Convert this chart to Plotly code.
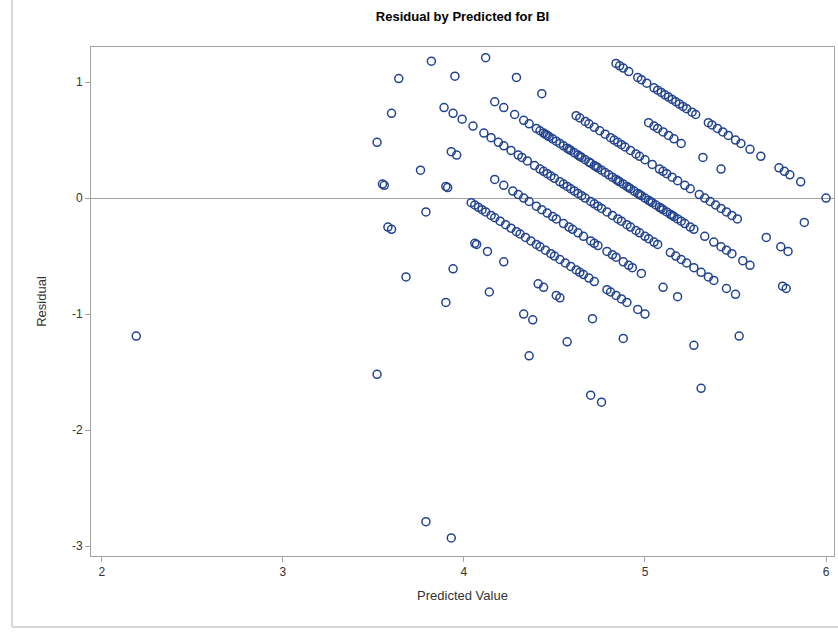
import plotly.graph_objects as go

# (predicted, residual) pairs grouped by observed BI score
obs_600 = [(4.84, 1.16), (4.86, 1.14), (4.88, 1.12), (4.91, 1.09), (4.96, 1.04), (4.98, 1.02),
           (5.01, 0.99), (5.05, 0.95), (5.07, 0.93), (5.09, 0.91), (5.11, 0.89), (5.13, 0.87),
           (5.15, 0.85), (5.17, 0.83), (5.19, 0.81), (5.21, 0.79), (5.23, 0.77), (5.26, 0.74),
           (5.28, 0.72), (5.35, 0.65), (5.37, 0.63), (5.40, 0.60), (5.43, 0.57), (5.46, 0.54),
           (5.50, 0.50), (5.53, 0.47), (5.58, 0.42), (5.64, 0.36), (5.74, 0.26), (5.77, 0.23),
           (5.80, 0.20), (5.86, 0.14), (6.00, 0.00)]
obs_567 = [(5.02, 0.65), (5.05, 0.62), (5.07, 0.60), (5.10, 0.57), (5.13, 0.54), (5.16, 0.51),
           (5.20, 0.47), (5.32, 0.35), (5.42, 0.25), (5.88, -0.21)]
obs_533 = [(4.12, 1.21), (4.29, 1.04), (4.43, 0.90), (4.62, 0.71), (4.64, 0.69), (4.67, 0.66),
           (4.69, 0.64), (4.72, 0.61), (4.75, 0.58), (4.78, 0.55), (4.81, 0.52), (4.83, 0.50),
           (4.85, 0.48), (4.87, 0.46), (4.89, 0.44), (4.92, 0.41), (4.95, 0.38), (4.97, 0.36),
           (5.00, 0.33), (5.04, 0.29), (5.08, 0.25), (5.10, 0.23), (5.12, 0.21), (5.15, 0.18),
           (5.18, 0.15), (5.22, 0.11), (5.25, 0.08), (5.30, 0.03), (5.33, 0.00), (5.36, -0.03),
           (5.39, -0.06), (5.42, -0.09), (5.45, -0.12), (5.48, -0.15), (5.51, -0.18),
           (5.67, -0.34), (5.75, -0.42), (5.79, -0.46)]
obs_500 = [(3.82, 1.18), (3.95, 1.05), (4.17, 0.83), (4.22, 0.78), (4.28, 0.72), (4.33, 0.67),
           (4.36, 0.64), (4.40, 0.60), (4.42, 0.58), (4.44, 0.56), (4.45, 0.55), (4.46, 0.54),
           (4.47, 0.53), (4.49, 0.51), (4.51, 0.49), (4.53, 0.47), (4.55, 0.45), (4.57, 0.43),
           (4.58, 0.42), (4.59, 0.41), (4.61, 0.39), (4.63, 0.37), (4.64, 0.36), (4.65, 0.35),
           (4.67, 0.33), (4.69, 0.31), (4.70, 0.30), (4.72, 0.28), (4.73, 0.27), (4.74, 0.26),
           (4.76, 0.24), (4.78, 0.22), (4.80, 0.20), (4.82, 0.18), (4.84, 0.16), (4.85, 0.15),
           (4.86, 0.14), (4.88, 0.12), (4.90, 0.10), (4.91, 0.09), (4.92, 0.08), (4.94, 0.06),
           (4.96, 0.04), (4.97, 0.03), (4.98, 0.02), (5.00, 0.00), (5.02, -0.02), (5.03, -0.03),
           (5.04, -0.04), (5.06, -0.06), (5.08, -0.08), (5.09, -0.09), (5.10, -0.10),
           (5.12, -0.12), (5.14, -0.14), (5.15, -0.15), (5.16, -0.16), (5.18, -0.18),
           (5.20, -0.20), (5.22, -0.22), (5.25, -0.25), (5.27, -0.27), (5.33, -0.33),
           (5.38, -0.38), (5.42, -0.42), (5.45, -0.45), (5.48, -0.48), (5.54, -0.54),
           (5.58, -0.58), (5.76, -0.76), (5.78, -0.78)]
obs_467 = [(3.64, 1.03), (3.89, 0.78), (3.94, 0.73), (3.99, 0.68), (4.05, 0.62), (4.11, 0.56),
           (4.15, 0.52), (4.19, 0.48), (4.22, 0.45), (4.26, 0.41), (4.30, 0.37), (4.32, 0.35),
           (4.35, 0.32), (4.39, 0.28), (4.42, 0.25), (4.44, 0.23), (4.46, 0.21), (4.48, 0.19),
           (4.50, 0.17), (4.53, 0.14), (4.55, 0.12), (4.57, 0.10), (4.59, 0.08), (4.61, 0.06),
           (4.63, 0.04), (4.65, 0.02), (4.67, 0.00), (4.70, -0.03), (4.72, -0.05), (4.74, -0.07),
           (4.76, -0.09), (4.79, -0.12), (4.82, -0.15), (4.85, -0.18), (4.87, -0.20),
           (4.90, -0.23), (4.92, -0.25), (4.95, -0.28), (4.97, -0.30), (5.00, -0.33),
           (5.02, -0.35), (5.05, -0.38), (5.07, -0.40), (5.14, -0.47), (5.17, -0.50),
           (5.20, -0.53), (5.23, -0.56), (5.27, -0.60), (5.31, -0.64), (5.35, -0.68),
           (5.38, -0.71), (5.45, -0.78), (5.50, -0.83)]
obs_433 = [(3.60, 0.73), (3.93, 0.40), (3.96, 0.37), (4.17, 0.16), (4.22, 0.11), (4.27, 0.06),
           (4.30, 0.03), (4.33, 0.00), (4.36, -0.03), (4.40, -0.07), (4.43, -0.10), (4.46, -0.13),
           (4.49, -0.16), (4.51, -0.18), (4.55, -0.22), (4.58, -0.25), (4.60, -0.27),
           (4.63, -0.30), (4.66, -0.33), (4.70, -0.37), (4.72, -0.39), (4.74, -0.41),
           (4.79, -0.46), (4.82, -0.49), (4.84, -0.51), (4.88, -0.55), (4.91, -0.58),
           (4.93, -0.60), (4.98, -0.65), (5.10, -0.77), (5.18, -0.85), (5.52, -1.19)]
obs_400 = [(3.52, 0.48), (3.76, 0.24), (3.90, 0.10), (3.91, 0.09), (4.04, -0.04), (4.06, -0.06),
           (4.08, -0.08), (4.10, -0.10), (4.12, -0.12), (4.15, -0.15), (4.17, -0.17),
           (4.20, -0.20), (4.23, -0.23), (4.26, -0.26), (4.29, -0.29), (4.31, -0.31),
           (4.34, -0.34), (4.37, -0.37), (4.40, -0.40), (4.42, -0.42), (4.45, -0.45),
           (4.48, -0.48), (4.50, -0.50), (4.53, -0.53), (4.56, -0.56), (4.59, -0.59),
           (4.62, -0.62), (4.64, -0.64), (4.66, -0.66), (4.69, -0.69), (4.72, -0.72),
           (4.79, -0.79), (4.81, -0.81), (4.84, -0.84), (4.87, -0.87), (4.90, -0.90),
           (4.96, -0.96), (5.00, -1.00), (5.27, -1.27)]
obs_367 = [(3.55, 0.12), (3.56, 0.11), (3.79, -0.12), (4.06, -0.39), (4.07, -0.40), (4.13, -0.46),
           (4.22, -0.55), (4.41, -0.74), (4.44, -0.77), (4.51, -0.84), (4.53, -0.86),
           (4.71, -1.04), (4.88, -1.21), (5.31, -1.64)]
obs_333 = [(3.58, -0.25), (3.60, -0.27), (3.94, -0.61), (4.14, -0.81), (4.33, -1.00),
           (4.38, -1.05), (4.57, -1.24)]
obs_300 = [(3.68, -0.68), (3.90, -0.90), (4.36, -1.36), (4.70, -1.70), (4.76, -1.76)]
obs_200 = [(3.52, -1.52)]
obs_100 = [(2.19, -1.19), (3.79, -2.79), (3.93, -2.93)]

x_ticks = [2, 3, 4, 5, 6]
y_ticks = [-3, -2, -1, 0, 1]
y_tick_labels = ["-3", "-2", "-1", "0", "1"]

groups = [obs_600, obs_567, obs_533, obs_500, obs_467, obs_433,
          obs_400, obs_367, obs_333, obs_300, obs_200, obs_100]
predicted = [p for g in groups for p, _ in g]
residual = [r for g in groups for _, r in g]

FONT = "Liberation Sans, Arial, sans-serif"
AXIS_GREY = "#a3a3a3"
MARKER_BLUE = "#22438f"

fig = go.Figure()
fig.add_trace(go.Scatter(
    x=predicted, y=residual, mode="markers",
    marker=dict(symbol="circle-open", size=8, color=MARKER_BLUE,
                line=dict(width=1.5, color=MARKER_BLUE)),
    showlegend=False, hoverinfo="x+y",
))

axis_common = dict(
    showline=True, mirror=True, linecolor=AXIS_GREY, linewidth=1,
    ticks="outside", ticklen=5, tickcolor=AXIS_GREY,
    showgrid=False,
    tickfont=dict(family=FONT, size=12, color="#333333"),
)

fig.update_xaxes(
    range=[1.94, 6.044], tickvals=x_ticks, zeroline=False,
    title=dict(text="Predicted Value", standoff=12,
               font=dict(family=FONT, size=13, color="#333333")),
    **axis_common,
)
fig.update_yaxes(
    range=[-3.086, 1.302], tickvals=y_ticks, ticktext=y_tick_labels,
    zeroline=True, zerolinecolor="#a0a0a0", zerolinewidth=1,
    title=dict(text="Residual", standoff=22,
               font=dict(family=FONT, size=13, color="#333333")),
    **axis_common,
)

# light outer border of the graph frame (left and bottom edges)
border = "#d8d8d8"
fig.add_shape(type="line", xref="paper", yref="paper",
              x0=-0.1063, x1=-0.1063, y0=-0.1395, y1=1.2,
              line=dict(color=border, width=2))
fig.add_shape(type="line", xref="paper", yref="paper",
              x0=-0.1063, x1=1.05, y0=-0.1395, y1=-0.1395,
              line=dict(color=border, width=2))

fig.update_layout(
    width=838, height=632,
    margin=dict(l=91, r=4, t=47, b=76),
    paper_bgcolor="white", plot_bgcolor="white",
    title=dict(text="Residual by Predicted for BI", x=0.5, xref="paper",
               y=1 - 16 / 632, yanchor="middle",
               font=dict(family=FONT, size=13, color="#000000", weight="bold")),
    font=dict(family=FONT),
)

fig.write_html("out.html")
